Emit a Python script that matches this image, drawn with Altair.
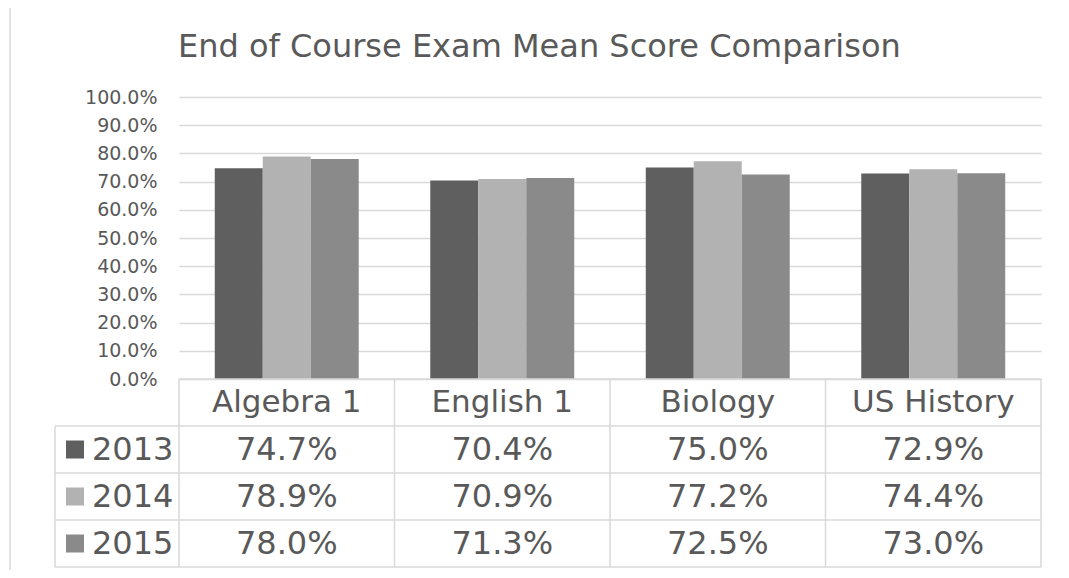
import altair as alt
import pandas as pd

# ---- data ----
categories = ["Algebra 1", "English 1", "Biology", "US History"]
years = ["2013", "2014", "2015"]
scores_2013 = [0.747, 0.704, 0.750, 0.729]
scores_2014 = [0.789, 0.709, 0.772, 0.744]
scores_2015 = [0.780, 0.713, 0.725, 0.730]
y_ticks = [0.0, 0.1, 0.2, 0.3, 0.4, 0.5, 0.6, 0.7, 0.8, 0.9, 1.0]
title_text = "End of Course Exam Mean Score Comparison"

# ---- style ----
colors = ["#5f5f5f", "#b2b2b2", "#8a8a8a"]
TEXT = "#595959"
LINE = "#d9d9d9"
FONT = "DejaVu Sans"
W, H = 862, 282
ROW_H = 47
LEFT_COL = 124
rows = ["header"] + years
TABLE_TOP, TABLE_BOT = H, H + ROW_H * 4

records = []
for yr, vals in zip(years, [scores_2013, scores_2014, scores_2015]):
    for c, v in zip(categories, vals):
        records.append({"category": c, "year": yr, "score": v,
                        "label": f"{v * 100:.1f}%"})
df = pd.DataFrame(records)
header_df = pd.DataFrame({"category": categories, "row": ["header"] * 4,
                          "label": categories})
year_df = pd.DataFrame({"year": years})
dummy = pd.DataFrame({"a": [0]})

x_enc = alt.X("category:N", sort=categories, axis=None,
              scale=alt.Scale(paddingInner=0.332, paddingOuter=0.166))
color_enc = alt.Color("year:N", scale=alt.Scale(domain=years, range=colors),
                      legend=None)
row_scale = alt.Scale(domain=rows, range=[TABLE_TOP, TABLE_BOT],
                      paddingInner=0, paddingOuter=0)

# outer frame
frame = alt.Chart(dummy).mark_rect(fill="transparent", stroke=LINE, strokeWidth=1.5).encode(
    x=alt.value(-169), x2=alt.value(W + 60), y=alt.value(-92), y2=alt.value(TABLE_BOT + 60)
)

title = alt.Chart(dummy).mark_text(
    text=title_text, align="left", baseline="alphabetic", fontSize=32,
    color=TEXT, font=FONT
).encode(x=alt.value(-1), y=alt.value(-40))

bars = alt.Chart(df).mark_bar().encode(
    x=x_enc,
    xOffset=alt.XOffset("year:N", sort=years,
                        scale=alt.Scale(paddingInner=0, paddingOuter=0)),
    y=alt.Y("score:Q", scale=alt.Scale(domain=[0, 1]),
            axis=alt.Axis(values=y_ticks, format=".1%", grid=True, domain=False,
                          ticks=False, labelFontSize=19, labelColor=TEXT,
                          labelPadding=22, gridColor=LINE, gridWidth=1.3,
                          title=None, labelFont=FONT)),
    color=color_enc,
)

# table grid lines
rules = []
def seg(x1, x2, y1, y2):
    return alt.Chart(dummy).mark_rule(color=LINE, strokeWidth=1.5).encode(
        x=alt.value(x1), x2=alt.value(x2), y=alt.value(y1), y2=alt.value(y2))

rules.append(seg(0, W, TABLE_TOP, TABLE_TOP))
for k in range(1, 5):
    yy = TABLE_TOP + ROW_H * k
    rules.append(seg(-LEFT_COL, W, yy, yy))
rules.append(seg(-LEFT_COL, -LEFT_COL, TABLE_TOP + ROW_H, TABLE_BOT))
for k in range(5):
    xx = W / 4 * k
    rules.append(seg(xx, xx, TABLE_TOP, TABLE_BOT))

header_text = alt.Chart(header_df).mark_text(
    fontSize=31, color=TEXT, font=FONT, baseline="middle"
).encode(
    x=x_enc,
    y=alt.Y("row:N", scale=row_scale, axis=None),
    text="label:N",
)

value_text = alt.Chart(df).mark_text(
    fontSize=32, color=TEXT, font=FONT, baseline="middle"
).encode(
    x=x_enc,
    y=alt.Y("year:N", scale=row_scale, axis=None),
    text="label:N",
)

year_labels = alt.Chart(year_df).mark_text(
    fontSize=32, color=TEXT, font=FONT, baseline="middle", align="left"
).encode(
    x=alt.value(-87),
    y=alt.Y("year:N", scale=row_scale, axis=None),
    text="year:N",
)

year_squares = alt.Chart(year_df).mark_square(size=324, opacity=1, filled=True).encode(
    x=alt.value(-104),
    y=alt.Y("year:N", scale=row_scale, axis=None),
    color=color_enc,
)

chart = alt.layer(
    frame, title, bars, *rules, header_text, value_text, year_labels, year_squares
).resolve_scale(y="independent").properties(
    width=W, height=H,
    autosize=alt.AutoSizeParams(type="none"),
    padding={"left": 171, "top": 89, "right": 20, "bottom": 191},
    background="white",
).configure_view(stroke=None)

chart.save("out.html", embed_options={"renderer": "svg", "actions": False})
